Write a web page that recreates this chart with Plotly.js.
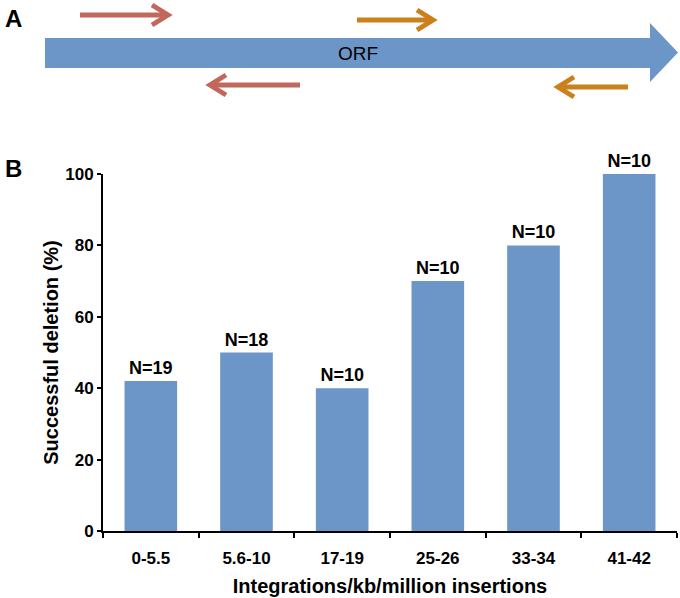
<!DOCTYPE html>
<html>
<head>
<meta charset="utf-8">
<script src="https://cdn.plot.ly/plotly-3.0.1.min.js"></script>
<style>html,body{margin:0;padding:0;background:#fff;}#chart{width:680px;height:598px;}</style>
</head>
<body>
<div id="chart"></div>
<script>
var categories = ["0-5.5", "5.6-10", "17-19", "25-26", "33-34", "41-42"];
var successPct = [42, 50, 40, 70, 80, 100];
var nLabels = ["N=19", "N=18", "N=10", "N=10", "N=10", "N=10"];
var yTicks = [0, 20, 40, 60, 80, 100];

var W = 680, H = 598;
var barColor = "#6b96c7";
var red = "#c2675c";
var orange = "#cc801c";
var F = "Liberation Sans, Arial, sans-serif";

function arrowShapes(x0, x1, y, color) {
  var dir = x1 > x0 ? 1 : -1;
  var bx = x1 - dir * 16;
  return [
    {type: "path", xref: "x2", yref: "y2",
     path: "M" + x0 + "," + y + " L" + (x1 - dir * 3) + "," + y,
     line: {color: color, width: 5}},
    {type: "path", xref: "x2", yref: "y2",
     path: "M" + bx + "," + (y - 10) + " L" + x1 + "," + y + " L" + bx + "," + (y + 10),
     line: {color: color, width: 5}}
  ];
}

var shapes = [
  {type: "path", xref: "x2", yref: "y2",
   path: "M45,38 L650,38 L650,23 L678,52.5 L650,82 L650,68 L45,68 Z",
   fillcolor: barColor, line: {width: 0}}
];
shapes = shapes.concat(arrowShapes(80, 168, 15, red));
shapes = shapes.concat(arrowShapes(357, 433, 20, orange));
shapes = shapes.concat(arrowShapes(300, 210, 85, red));
shapes = shapes.concat(arrowShapes(628, 558, 87, orange));

var trace = {
  type: "bar",
  x: categories,
  y: successPct,
  text: nLabels,
  textposition: "outside",
  textfont: {family: F, size: 18, color: "#000", weight: "bold"},
  cliponaxis: false,
  marker: {color: barColor},
  hoverinfo: "none"
};

var layout = {
  width: W, height: H,
  margin: {l: 0, r: 0, t: 0, b: 0},
  paper_bgcolor: "#fff", plot_bgcolor: "rgba(0,0,0,0)",
  showlegend: false,
  bargap: 0.45,
  font: {family: F, color: "#000"},
  xaxis: {
    domain: [103 / W, 677 / W],
    anchor: "y",
    showline: true, linecolor: "#000", linewidth: 2,
    ticks: "outside", tickson: "boundaries", ticklen: 5, tickwidth: 2, tickcolor: "#000",
    tickfont: {family: F, size: 17, color: "#000", weight: "bold"},
    ticklabelstandoff: 11,
    showgrid: false, zeroline: false,
    title: {text: "Integrations/kb/million insertions", font: {family: F, size: 20, color: "#000", weight: "bold"}, standoff: 12}
  },
  yaxis: {
    domain: [(H - 531) / H, (H - 174) / H],
    anchor: "x",
    range: [0, 100],
    tickvals: yTicks,
    showline: true, linecolor: "#000", linewidth: 2,
    ticks: "outside", ticklen: 4, tickwidth: 2, tickcolor: "#000",
    tickfont: {family: F, size: 17, color: "#000", weight: "bold"},
    showgrid: false, zeroline: false,
    title: {text: "Successful deletion (%)", font: {family: F, size: 20, color: "#000", weight: "bold"}, standoff: 1}
  },
  xaxis2: {domain: [0, 1], anchor: "y2", range: [0, W], visible: false, fixedrange: true},
  yaxis2: {domain: [0, 1], anchor: "x2", range: [H, 0], visible: false, fixedrange: true},
  shapes: shapes,
  annotations: [
    {xref: "x2", yref: "y2", x: 358, y: 53, text: "ORF", showarrow: false,
     font: {family: F, size: 19, color: "#000"}},
    {xref: "x2", yref: "y2", x: 13, y: 18, text: "<b>A</b>", showarrow: false,
     font: {family: F, size: 24, color: "#000"}},
    {xref: "x2", yref: "y2", x: 13, y: 168, text: "<b>B</b>", showarrow: false,
     font: {family: F, size: 24, color: "#000"}}
  ]
};

Plotly.newPlot("chart", [trace], layout, {displayModeBar: false, staticPlot: true});
</script>
</body>
</html>
